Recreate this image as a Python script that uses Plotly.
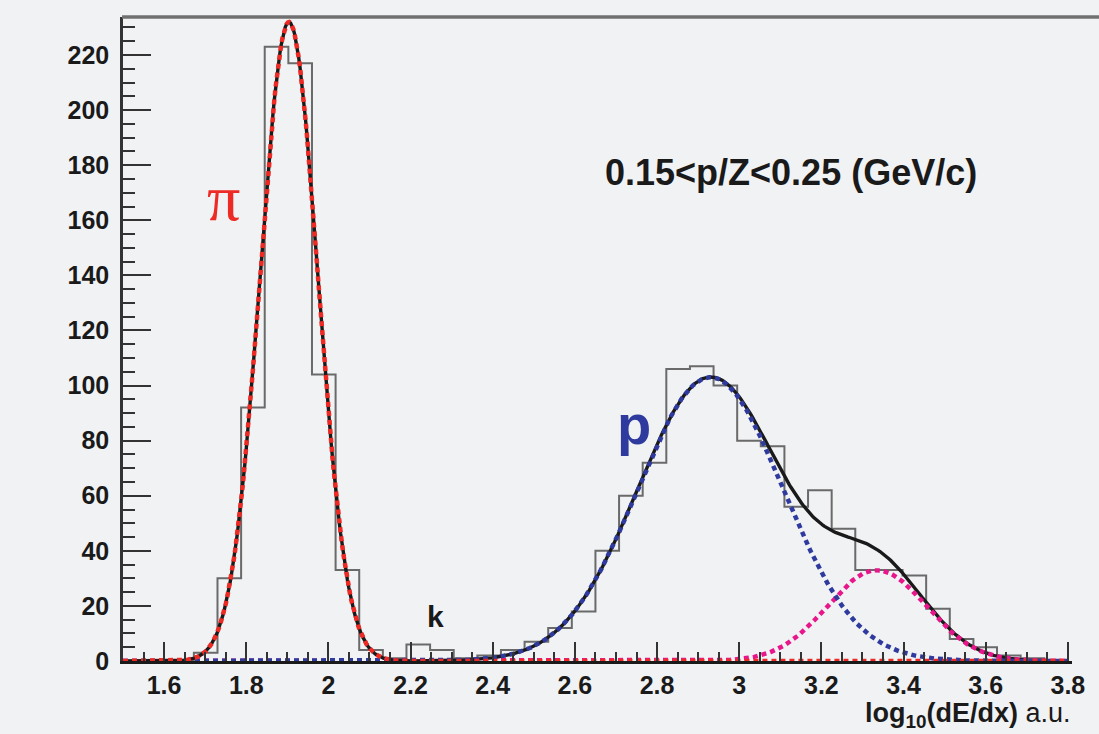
import numpy as np
import plotly.graph_objects as go

# Histogram of log10(dE/dx): 40 equal bins between 1.5 and 3.8
bin_lo, bin_hi, n_bins = 1.5, 3.8, 40
counts = [0, 0, 0, 3, 30, 92, 223, 217, 104, 33,
          4, 1, 6, 4, 1, 2, 4, 7, 12, 18,
          40, 60, 72, 106, 107, 100, 80, 78, 56, 62,
          48, 33, 33, 31, 19, 8, 5, 2, 1, 0]

# Gaussian fit components: (amplitude, mean, sigma)
pion_fit = [232.0, 1.904, 0.070]
proton_fit = [103.0, 2.930, 0.177]
deuteron_fit = [33.0, 3.335, 0.120]

x_ticks = [1.6, 1.8, 2.0, 2.2, 2.4, 2.6, 2.8, 3.0, 3.2, 3.4, 3.6, 3.8]
x_labels = ["1.6", "1.8", "2", "2.2", "2.4", "2.6", "2.8", "3", "3.2", "3.4", "3.6", "3.8"]
y_ticks = [0, 20, 40, 60, 80, 100, 120, 140, 160, 180, 200, 220]

edges = np.linspace(bin_lo, bin_hi, n_bins + 1)
step_y = list(counts) + [counts[-1]]

xs = np.linspace(bin_lo, bin_hi, 700)


def gauss(x, p):
    a, m, s = p
    return a * np.exp(-0.5 * ((x - m) / s) ** 2)


y_pi = gauss(xs, pion_fit)
y_p = gauss(xs, proton_fit)
y_d = gauss(xs, deuteron_fit)
y_tot = y_pi + y_p + y_d

BG = "#f1f2f4"
DOT = "5px,4px"

fig = go.Figure()
fig.add_trace(go.Scatter(x=edges, y=step_y, mode="lines", line=dict(color="#6a6a6a", width=2, shape="hv"),
                         hoverinfo="skip"))
fig.add_trace(go.Scatter(x=xs, y=y_tot, mode="lines", line=dict(color="#1a1a1a", width=3.4)))
fig.add_trace(go.Scatter(x=xs, y=y_d, mode="lines", line=dict(color="#e8168a", width=4.5, dash=DOT)))
fig.add_trace(go.Scatter(x=xs, y=y_p, mode="lines", line=dict(color="#2e3a9e", width=4.5, dash=DOT)))
fig.add_trace(go.Scatter(x=xs, y=y_pi, mode="lines", line=dict(color="#ee2a24", width=4.5, dash=DOT)))

tick_font = dict(family="Liberation Sans, Arial, sans-serif", size=25, color="#1a1a1a", weight="bold")

fig.update_layout(
    width=1099, height=734,
    margin=dict(l=123, r=27, t=17, b=73),
    paper_bgcolor=BG, plot_bgcolor=BG,
    showlegend=False,
    xaxis=dict(range=[1.5, 3.81], tickvals=x_ticks, ticktext=x_labels,
               ticks="inside", ticklen=19, tickwidth=2, tickcolor="#333333",
               minor=dict(dtick=0.05, tick0=0, ticks="inside", ticklen=9, tickwidth=1.5, tickcolor="#333333"),
               showline=True, linecolor="#1a1a1a", linewidth=2.5,
               showgrid=False, zeroline=False, tickfont=tick_font, ticklabelstandoff=0),
    yaxis=dict(range=[0, 233.8], tickvals=y_ticks, ticks="inside", ticklen=28, tickwidth=2,
               tickcolor="#333333",
               minor=dict(dtick=5, tick0=0, ticks="inside", ticklen=12, tickwidth=1.5, tickcolor="#333333"),
               showline=True, linecolor="#333333", linewidth=2.5,
               showgrid=False, zeroline=False, tickfont=tick_font, ticklabelstandoff=6),
)

# frame line along the top
fig.add_shape(type="line", xref="paper", yref="paper", x0=-0.001, x1=1.03, y0=1, y1=1,
              line=dict(color="#707070", width=3.5))

fig.add_annotation(xref="paper", yref="paper", x=(791 - 123) / 949, y=(661 - 172) / 644,
                   text="0.15<p/Z<0.25 (GeV/c)", showarrow=False, xanchor="center", yanchor="middle",
                   font=dict(family="Liberation Sans, Arial, sans-serif", size=36, color="#1a1a1a",
                             weight="bold"))
fig.add_annotation(xref="paper", yref="paper", x=(223 - 123) / 949, y=(661 - 198) / 644,
                   text="π", showarrow=False, xanchor="center", yanchor="middle",
                   font=dict(family="Liberation Serif, serif", size=66, color="#ee2a24"))
fig.add_annotation(xref="paper", yref="paper", x=(634 - 123) / 949, y=(661 - 424) / 644,
                   text="p", showarrow=False, xanchor="center", yanchor="middle",
                   font=dict(family="Liberation Sans, Arial, sans-serif", size=56, color="#2e3a9e",
                             weight="bold"))
fig.add_annotation(xref="paper", yref="paper", x=(435 - 123) / 949, y=(661 - 616) / 644,
                   text="k", showarrow=False, xanchor="center", yanchor="middle",
                   font=dict(family="Liberation Sans, Arial, sans-serif", size=30, color="#1a1a1a",
                             weight="bold"))
fig.add_annotation(xref="paper", yref="paper", x=(1073 - 123) / 949, y=(661 - 715) / 644,
                   text="<b>log<sub>10</sub>(dE/dx)</b> a.u.", showarrow=False, xanchor="right",
                   yanchor="middle",
                   font=dict(family="Liberation Sans, Arial, sans-serif", size=27, color="#1a1a1a"))

fig.write_html("out.html")
